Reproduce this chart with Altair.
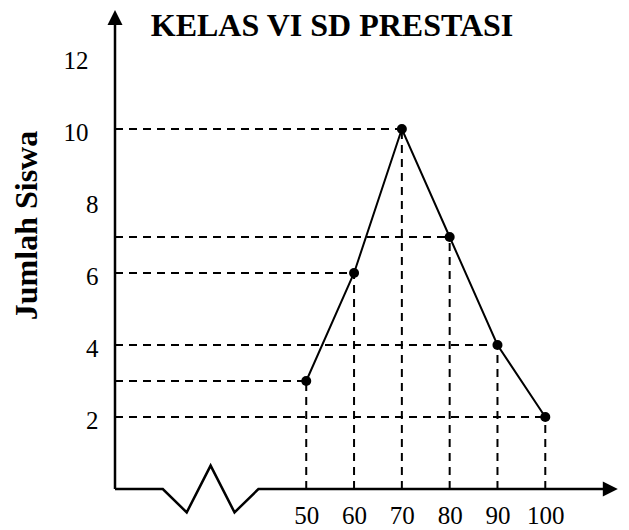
import altair as alt
import pandas as pd

# ---- data ----
nilai = [50, 60, 70, 80, 90, 100]
jumlah_siswa = [3, 6, 10, 7, 4, 2]
y_ticks = [2, 4, 6, 8, 10, 12]
judul = "KELAS VI SD PRESTASI"
label_y = "Jumlah Siswa"

# axis decorations (broken x axis with zigzag, arrow heads)
axis_x_pts = [10, 20, 25, 30, 35, 40, 113.6]
axis_y_pts = [0, 0, -0.65, 0.65, -0.65, 0, 0]
arrow_x = [10, 113.6]
arrow_y = [13.1, 0]
arrow_shape = ["M0,-1L-1,1L1,1Z", "M1,0L-1,-1L-1,1Z"]

X_DOM = [10, 115]
Y_DOM = [0, 13.25]
FONT = "Liberation Serif"

df = pd.DataFrame({"nilai": nilai, "jumlah": jumlah_siswa})
df["x0"] = X_DOM[0]
df["y0"] = 0
df_axis = pd.DataFrame({"nilai": axis_x_pts, "jumlah": axis_y_pts, "ord": list(range(len(axis_x_pts)))})
df_yaxis = pd.DataFrame({"nilai": [X_DOM[0]], "jumlah": [0], "top": [arrow_y[0]]})
df_arrow = pd.DataFrame({"nilai": arrow_x, "jumlah": arrow_y, "shape": arrow_shape})
df_title = pd.DataFrame({"judul": [judul]})

xs = alt.Scale(domain=X_DOM, nice=False, zero=False)
ys = alt.Scale(domain=Y_DOM, nice=False, zero=False)

x_axis = alt.Axis(values=nilai, title=None, domain=False, ticks=False, tickSize=0, grid=False,
                  labelFont=FONT, labelFontSize=25, labelColor="black",
                  labelBaseline="alphabetic", labelPadding=34, labelFlush=False, labelOverlap=False)
y_axis = alt.Axis(values=y_ticks, title=label_y, domain=False, ticks=False, tickSize=0, grid=False,
                  labelFont=FONT, labelFontSize=25, labelColor="black",
                  labelAlign="right", labelBaseline="middle", labelOffset=3.5,
                  labelPadding=alt.condition("datum.value >= 10", alt.value(27), alt.value(17)),
                  labelFlush=False, labelOverlap=False,
                  titleFont=FONT, titleFontSize=32, titleFontWeight="bold", titleColor="black",
                  titleAngle=270, titleAlign="center", titleBaseline="alphabetic",
                  titleX=-79, titleY=213)

X = lambda f: alt.X(f, type="quantitative", scale=xs, axis=x_axis)
Y = lambda f: alt.Y(f, type="quantitative", scale=ys, axis=y_axis)

dash = dict(color="black", strokeDash=[8, 6], strokeWidth=2)

h_dash = alt.Chart(df).mark_rule(**dash).encode(x=X("x0"), x2="nilai:Q", y=Y("jumlah"))
v_dash = alt.Chart(df).mark_rule(**dash).encode(x=X("nilai"), y=Y("y0"), y2="jumlah:Q")
line = alt.Chart(df).mark_line(color="black", strokeWidth=2).encode(x=X("nilai"), y=Y("jumlah"))
pts = alt.Chart(df).mark_circle(color="black", size=100, opacity=1).encode(x=X("nilai"), y=Y("jumlah"))

x_line = alt.Chart(df_axis).mark_line(color="black", strokeWidth=2.5, strokeJoin="miter").encode(
    x=X("nilai"), y=Y("jumlah"), order="ord:Q")
y_line = alt.Chart(df_yaxis).mark_rule(color="black", strokeWidth=2.5).encode(
    x=X("nilai"), y=Y("jumlah"), y2="top:Q")
arrows = alt.Chart(df_arrow).mark_point(filled=True, color="black", opacity=1, size=225, strokeWidth=0).encode(
    x=X("nilai"), y=Y("jumlah"), shape=alt.Shape("shape:N", scale=None, legend=None))

# chart title (placed as a text layer so it stays inside the drawing area)
title_txt = alt.Chart(df_title).mark_text(font=FONT, fontSize=32, fontWeight="bold", color="black",
                                          align="center", baseline="alphabetic").encode(
    text="judul:N", x=alt.value(217), y=alt.value(24))

chart = alt.layer(h_dash, v_dash, line, pts, x_line, y_line, arrows, title_txt).properties(
    width=502, height=477,
    autosize=alt.AutoSizeParams(type="none"),
    padding={"left": 107, "top": 4, "right": 4, "bottom": 40},
    background="white",
).configure_view(stroke=None)

chart.save("out.html", embed_options={"renderer": "svg", "actions": False})
